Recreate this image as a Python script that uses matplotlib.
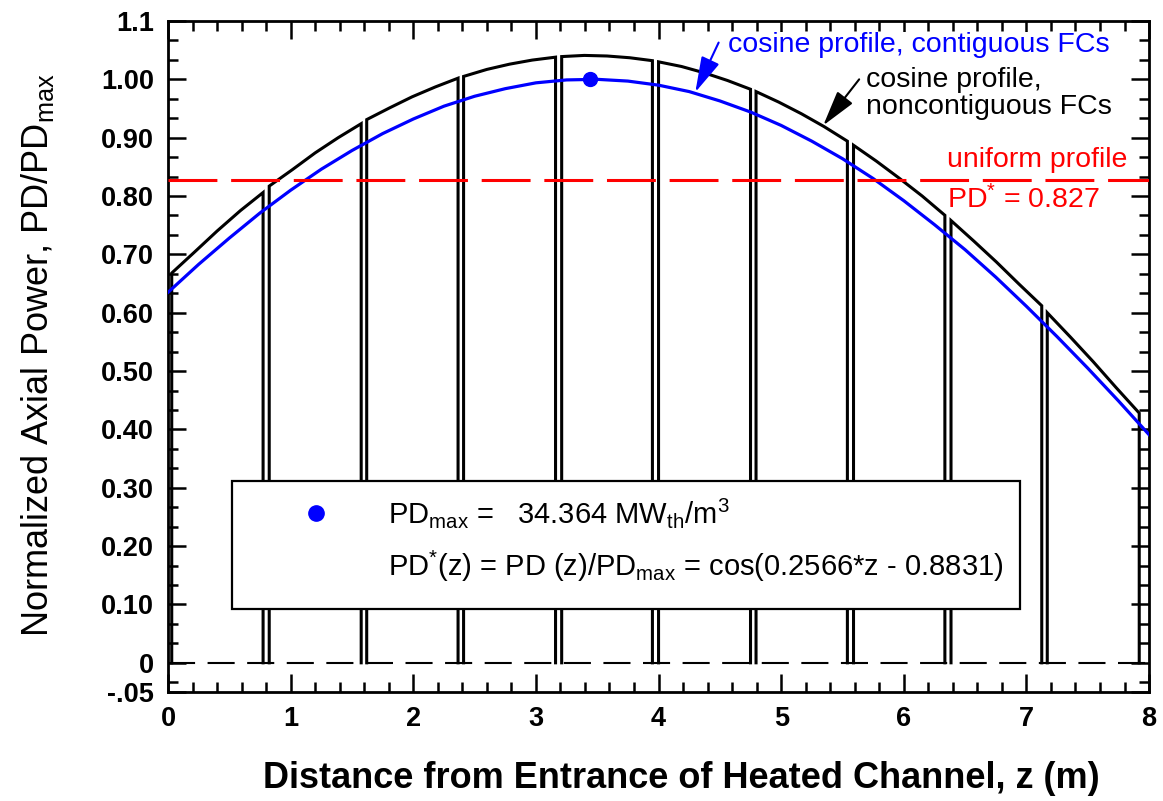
import matplotlib
matplotlib.use("Agg")
import matplotlib.pyplot as plt
from matplotlib.patches import Rectangle
from matplotlib.ticker import FixedLocator, MultipleLocator

plt.rcParams['font.family'] = ['Liberation Sans', 'DejaVu Sans']
plt.rcParams['mathtext.default'] = 'regular'

# contiguous fuel channels, cosine profile (z in m, PD/PDmax)
z_cont = [0.0, 0.25, 0.5, 0.75, 1.0, 1.25, 1.5, 1.75, 2.0, 2.25, 2.5,
          2.75, 3.0, 3.25, 3.5, 3.75, 4.0, 4.25, 4.5, 4.75, 5.0, 5.25,
          5.5, 5.75, 6.0, 6.25, 6.5, 6.75, 7.0, 7.25, 7.5, 7.75, 8.0]
pd_cont = [0.635, 0.683, 0.728, 0.771, 0.810, 0.846, 0.878, 0.907, 0.932,
           0.954, 0.971, 0.984, 0.994, 0.999, 1.000, 0.997, 0.990, 0.979,
           0.963, 0.944, 0.921, 0.894, 0.864, 0.830, 0.792, 0.751, 0.708,
           0.661, 0.611, 0.559, 0.505, 0.449, 0.391]

# noncontiguous fuel channels, points along the top of each channel
fc_z = [[0.03, 0.216, 0.40, 0.59, 0.775],
        [0.825, 1.0125, 1.20, 1.3875, 1.575],
        [1.62, 1.806, 1.99, 2.18, 2.365],
        [2.41, 2.60, 2.785, 2.97, 3.16],
        [3.21, 3.395, 3.58, 3.765, 3.95],
        [4.00, 4.1875, 4.375, 4.5625, 4.75],
        [4.795, 4.98, 5.165, 5.35, 5.54],
        [5.59, 5.775, 5.96, 6.15, 6.335],
        [6.385, 6.57, 6.755, 6.94, 7.125],
        [7.17, 7.36, 7.545, 7.73, 7.92]]
fc_pd = [[0.668, 0.704, 0.740, 0.775, 0.806],
         [0.817, 0.845, 0.874, 0.900, 0.924],
         [0.931, 0.951, 0.970, 0.987, 1.002],
         [1.005, 1.017, 1.026, 1.033, 1.038],
         [1.039, 1.041, 1.040, 1.037, 1.032],
         [1.030, 1.022, 1.011, 0.998, 0.983],
         [0.979, 0.961, 0.941, 0.919, 0.894],
         [0.887, 0.860, 0.831, 0.800, 0.767],
         [0.758, 0.723, 0.687, 0.649, 0.612],
         [0.600, 0.558, 0.516, 0.472, 0.428]]

pd_uniform = 0.827
z_peak, pd_peak = 3.44, 1.0

yticks = [-0.05, 0, 0.1, 0.2, 0.3, 0.4, 0.5, 0.6, 0.7, 0.8, 0.9, 1.0, 1.1]
ylabels = ['-.05', '0', '0.10', '0.20', '0.30', '0.40', '0.50', '0.60',
           '0.70', '0.80', '0.90', '1.00', '1.1']

fig = plt.figure(figsize=(11.63, 8.01), dpi=100)
ax = fig.add_axes([0.1445, 0.1361, 0.8435, 0.8377])

for zs, ps in zip(fc_z, fc_pd):
    ax.plot([zs[0]] + zs + [zs[-1]], [0] + ps + [0], color='black', lw=2.2,
            solid_joinstyle='miter', zorder=3)

ax.axhline(0, color='black', lw=1.5, ls=(0, (13, 6)), zorder=2)
ax.plot(z_cont, pd_cont, color='blue', lw=2.3, zorder=4)
ax.axhline(pd_uniform, color='red', lw=2.2, ls=(0, (16, 4.5)), zorder=4)
ax.plot(z_peak, pd_peak, 'o', color='blue', ms=10, zorder=5)

# info box
ax.add_patch(Rectangle((0.52, 0.092), 6.43, 0.22, fc='white', ec='black',
                       lw=1.6, zorder=6))
ax.plot(1.21, 0.257, 'o', color='blue', ms=11, zorder=7)
ax.text(1.79, 0.257, 'PD$_{max}$ =   34.364 MW$_{th}$/m$^{3}$', fontsize=21,
        va='center', zorder=7)
ax.text(1.79, 0.166, 'PD$^{*}$(z) = PD (z)/PD$_{max}$ = cos(0.2566*z - 0.8831)',
        fontsize=21, va='center', zorder=7)

# annotations
arrow = dict(arrowstyle='-|>,head_length=1.1,head_width=0.3', lw=1.5,
             shrinkA=0, shrinkB=0, mutation_scale=20)
ax.annotate('', xy=(4.30, 0.978), xytext=(4.49, 1.063),
            arrowprops=dict(arrow, color='blue'), zorder=5)
ax.annotate('', xy=(5.343, 0.921), xytext=(5.636, 1.0),
            arrowprops=dict(arrow, color='black'), zorder=5)
ax.text(4.57, 1.058, 'cosine profile, contiguous FCs', color='blue',
        fontsize=20.5, va='center', zorder=6,
        bbox=dict(fc='white', ec='none', pad=0.5))
ax.text(5.69, 0.975, 'cosine profile,\nnoncontiguous FCs', color='black',
        fontsize=20.5, va='center', linespacing=1.05, zorder=6)
ax.text(6.35, 0.861, 'uniform profile', color='red', fontsize=20.5, va='center')
ax.text(6.35, 0.793, 'PD$^{*}$ = 0.827', color='red', fontsize=20.5, va='center')

ax.set_xlim(0, 8)
ax.set_ylim(-0.05, 1.1)
ax.set_xticks(range(9))
ax.xaxis.set_minor_locator(MultipleLocator(0.2))
ax.set_yticks(yticks)
ax.set_yticklabels(ylabels)
ax.yaxis.set_minor_locator(FixedLocator([k / 30 for k in range(-1, 33)]))
ax.tick_params(which='both', direction='in', top=True, right=True, width=1.8,
               labelsize=19.5, pad=10)
ax.tick_params(which='major', length=13)
ax.tick_params(which='minor', length=7)
for lab in ax.get_xticklabels() + ax.get_yticklabels():
    lab.set_fontweight('bold')
for sp in ax.spines.values():
    sp.set_linewidth(2)

fig.text(38 / 1163, 1 - 355 / 801, 'Normalized Axial Power, PD/PD$_{max}$',
         rotation=90, fontsize=26, ha='center', va='center')
fig.text(681 / 1163, 1 - 778 / 801,
         'Distance from Entrance of Heated Channel, z (m)', fontsize=26,
         fontweight='bold', ha='center', va='center')

fig.savefig('out.png', dpi=100)
